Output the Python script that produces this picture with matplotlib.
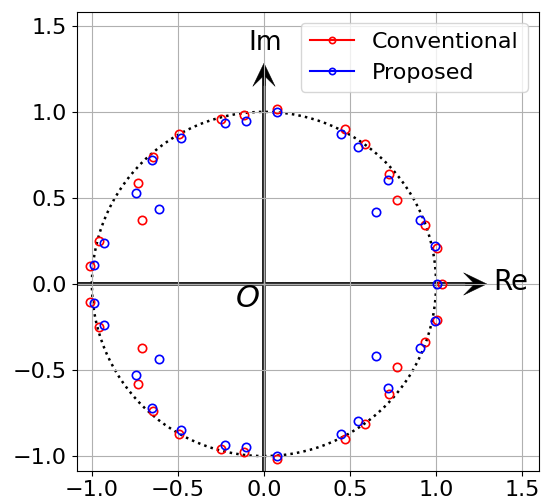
import matplotlib
matplotlib.use("Agg")
import matplotlib.pyplot as plt
from matplotlib.patches import Circle
from matplotlib.lines import Line2D

# Conventional (red) roots
conv_re = [-1.012, -0.959, -0.734, -0.709, -0.647, -0.496, -0.252, -0.118, 0.078,
           0.469, 0.585, 0.725, 0.775, 0.934, 1.004,
           -1.012, -0.959, -0.734, -0.709, -0.647, -0.496, -0.252, -0.118, 0.078,
           0.469, 0.585, 0.725, 0.775, 0.934, 1.004,
           1.035]
conv_im = [0.103, 0.249, 0.584, 0.372, 0.737, 0.871, 0.957, 0.979, 1.017,
           0.901, 0.813, 0.640, 0.485, 0.340, 0.211,
           -0.103, -0.249, -0.584, -0.372, -0.737, -0.871, -0.957, -0.979, -1.017,
           -0.901, -0.813, -0.640, -0.485, -0.340, -0.211,
           0.0]

# Proposed (blue) roots
prop_re = [-0.988, -0.932, -0.744, -0.610, -0.651, -0.481, -0.229, -0.103, 0.078,
           0.450, 0.545, 0.719, 0.649, 0.907, 0.992,
           -0.988, -0.932, -0.744, -0.610, -0.651, -0.481, -0.229, -0.103, 0.078,
           0.450, 0.545, 0.719, 0.649, 0.907, 0.992,
           1.004]
prop_im = [0.108, 0.236, 0.527, 0.437, 0.718, 0.846, 0.938, 0.945, 0.997,
           0.869, 0.796, 0.602, 0.421, 0.372, 0.218,
           -0.108, -0.236, -0.527, -0.437, -0.718, -0.846, -0.938, -0.945, -0.997,
           -0.869, -0.796, -0.602, -0.421, -0.372, -0.218,
           0.0]

ticks = [-1.0, -0.5, 0.0, 0.5, 1.0, 1.5]
series_labels = ["Conventional", "Proposed"]

fig = plt.figure(figsize=(5.47, 5.01), dpi=100)
ax = fig.add_axes([0.140, 0.0605, 0.845, 0.9165])

ax.set_xlim(-1.089, 1.597)
ax.set_ylim(-1.085, 1.583)
ax.set_xticks(ticks)
ax.set_yticks(ticks)
ax.tick_params(labelsize=16)
ax.set_axisbelow('line')
ax.grid(True, color='#b0b0b0', lw=0.8)

# unit circle
ax.add_patch(Circle((0, 0), 1.0, fill=False, ls=':', lw=1.8, ec='black', zorder=1.2))

# axes arrows
arrow_kw = dict(width=0.02, head_width=0.13, head_length=0.135, overhang=0.4,
                length_includes_head=True, fc='black', ec='black', lw=0.3, zorder=1)
ax.arrow(-1.2, 0, 1.2 + 1.295, 0, **arrow_kw)
ax.arrow(0, -1.2, 0, 1.2 + 1.283, **arrow_kw)
# light core of the shafts
ax.plot([-1.2, 1.16], [0, 0], color='white', lw=1.0, zorder=1.1)
ax.plot([0, 0], [-1.2, 1.15], color='white', lw=1.0, zorder=1.1)

ax.text(1.433, 0.012, "Re", fontsize=20, ha='center', va='center')
ax.text(0.006, 1.40, "Im", fontsize=19, ha='center', va='center')
ax.text(-0.096, -0.087, "$O$", fontsize=22, ha='center', va='center')

ax.plot(conv_re, conv_im, ls='none', marker='o', ms=6, mfc='none', mec='red', mew=1.2, zorder=2)
ax.plot(prop_re, prop_im, ls='none', marker='o', ms=6, mfc='none', mec='blue', mew=1.2, zorder=2.1)

handles = [Line2D([], [], color='red', marker='o', ms=4.5, mfc='none', mew=1.2),
           Line2D([], [], color='blue', marker='o', ms=4.5, mfc='none', mew=1.2)]
ax.legend(handles, series_labels, loc='upper right', fontsize=16)

fig.savefig("out.png", dpi=100)
